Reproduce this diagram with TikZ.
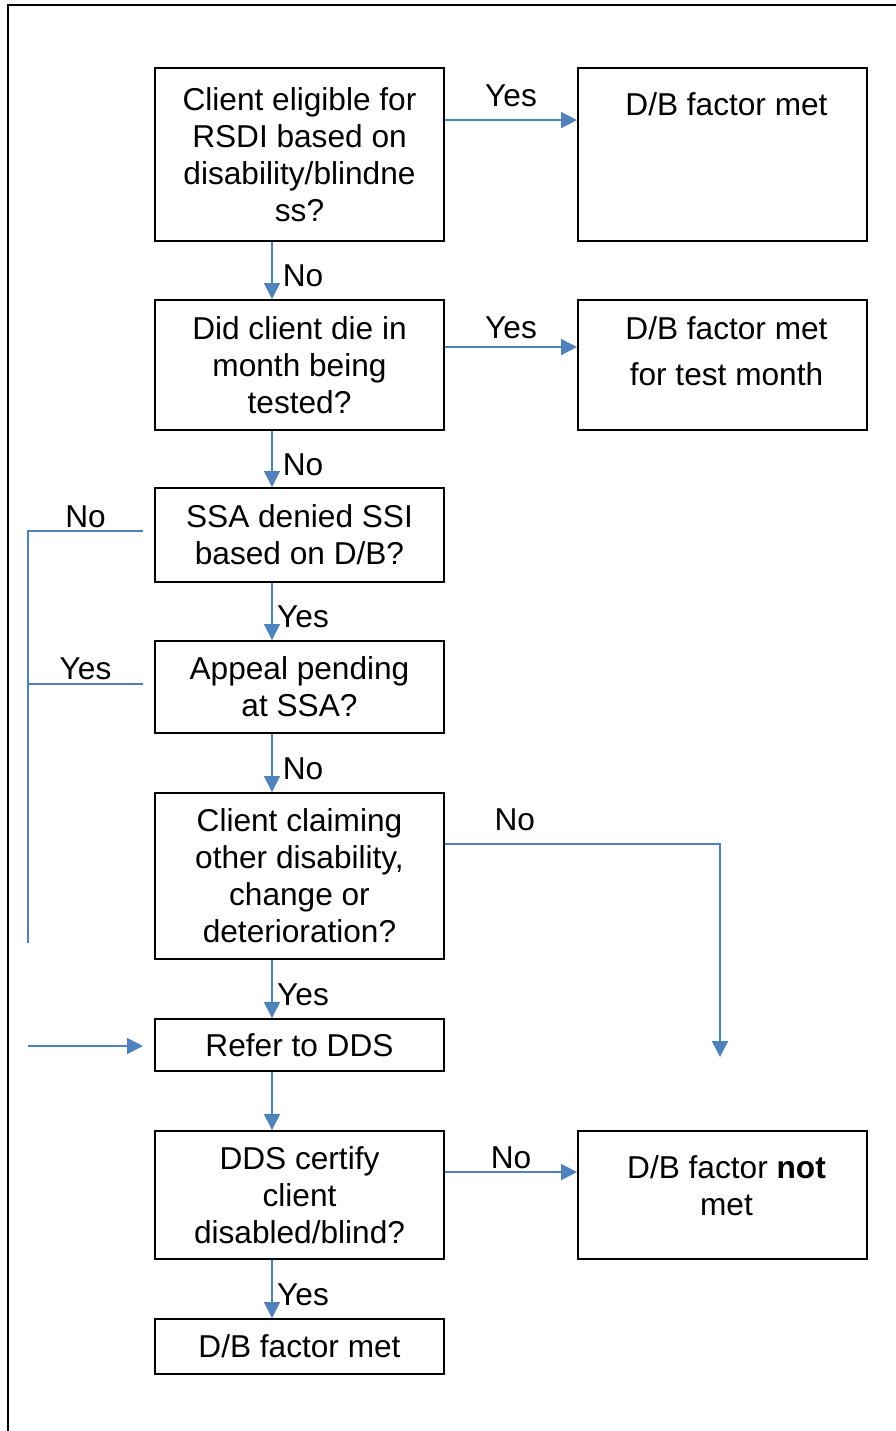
\documentclass[tikz,border=0pt]{standalone}
\usepackage{fontspec}
\setmainfont{Liberation Sans}
\usetikzlibrary{arrows.meta,calc}
\definecolor{linkblue}{RGB}{79,129,189}
\tikzset{
  box/.style={draw, line width=1.1pt, minimum width=5.78cm, align=center, inner sep=0pt, font=\fontsize{18}{21}\selectfont},
  toptext/.style={anchor=north, inner sep=0pt, align=center, xshift=0.08cm, font=\fontsize{18}{21}\selectfont},
  wire/.style={draw=linkblue, line width=0.85pt},
  link/.style={wire, -{Triangle[length=0.32cm,width=0.32cm]}},
  ans/.style={inner sep=0pt, font=\fontsize{18}{21}\selectfont},
  vans/.style={ans, pos=0.6, anchor=center, xshift=0.62cm},
  hans/.style={ans, anchor=south},
}

\begin{document}
\begin{tikzpicture}[x=0.02cm, y=-0.02cm]
		%%%%% START %%%%%
		\useasboundingbox (0,0) rectangle (896,1431);
		\draw[line width=1.1pt] (8,1431) -- (8,5) -- (896,5);
		
		% decision column
		\node[box, minimum height=3.46cm] (elig) at (299.5,154.5) {Client eligible for\\RSDI based on\\disability/blindne\\ss?};
		\node[box, minimum height=2.6cm] (died) at (299.5,365) {Did client die in\\month being\\tested?};
		\node[box, minimum height=1.88cm] (denied) at (299.5,535) {SSA denied SSI\\based on D/B?};
		\node[box, minimum height=1.84cm] (appeal) at (299.5,687) {Appeal pending\\at SSA?};
		\node[box, minimum height=3.32cm] (claim) at (299.5,876) {Client claiming\\other disability,\\change or\\deterioration?};
		\node[box, minimum height=1.04cm] (refer) at (299.5,1045) {Refer to DDS};
		\node[box, minimum height=2.56cm] (certify) at (299.5,1195) {DDS certify\\client\\disabled/blind?};
		\node[box, minimum height=1.1cm] (metB) at (299.5,1346.5) {D/B factor met};
		
		% outcome column
		\node[box, minimum height=3.46cm, label={[toptext, yshift=-0.5cm]north:D/B factor met}] (metA) at (722.5,154.5) {};
		\node[box, minimum height=2.6cm, label={[toptext, yshift=-0.34cm]north:D/B factor met\\[5pt]for test month}] (metT) at (722.5,365) {};
		\node[box, minimum height=2.56cm, label={[toptext, yshift=-0.5cm]north:D/B factor \textbf{not}\\met}] (notmet) at (722.5,1195) {};
		
		\coordinate (spine) at (272,0);
		\coordinate (noL) at (143,531);
		\coordinate (yesL) at (143,684);
		\coordinate (loopB) at (28,943);
		\coordinate (inL) at (28,1046);
		\coordinate (inR) at (143,1046);
		\coordinate (dropR) at (720,1057);
		
		% down the spine
		\draw[link] (elig.south -| spine) -- node[vans] {No} (died.north -| spine);
		\draw[link] (died.south -| spine) -- node[vans] {No} (denied.north -| spine);
		\draw[link] (denied.south -| spine) -- node[vans] {Yes} (appeal.north -| spine);
		\draw[link] (appeal.south -| spine) -- node[vans] {No} (claim.north -| spine);
		\draw[link] (claim.south -| spine) -- node[vans] {Yes} (refer.north -| spine);
		\draw[link] (refer.south -| spine) -- (certify.north -| spine);
		\draw[link] (certify.south -| spine) -- node[vans] {Yes} (metB.north -| spine);
		
		% across
		\draw[link] ($(elig.north east)+(0,53)$) -- node[hans, yshift=0.26cm] {Yes} ($(metA.north west)+(0,53)$);
		\draw[link] ($(died.north east)+(0,48)$) -- node[hans, yshift=0.16cm] {Yes} ($(metT.north west)+(0,48)$);
		\draw[link] ($(certify.north east)+(0,42)$) -- node[hans, yshift=0.06cm] {No} ($(notmet.north west)+(0,42)$);
		\draw[link] ($(claim.north east)+(0,52)$) -| node[hans, pos=0.127, yshift=0.26cm] {No} (dropR);
		
		% left loop
		\draw[wire] (noL) -- node[hans, yshift=0.04cm] {No} (noL -| loopB) -- (loopB);
		\draw[wire] (yesL) -- node[hans, yshift=0.06cm] {Yes} (yesL -| loopB);
		\draw[link] (inL) -- (inR);
		%%%%% END %%%%%
\end{tikzpicture}
\end{document}
